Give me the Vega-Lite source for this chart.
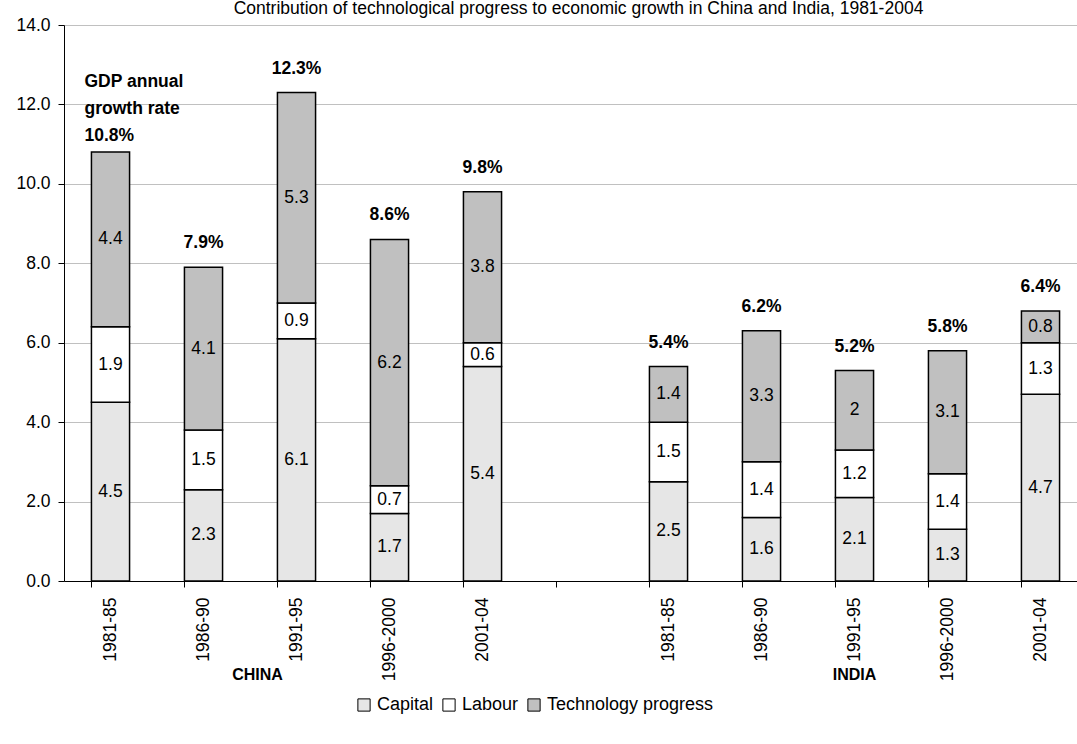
{
  "$schema": "https://vega.github.io/schema/vega-lite/v6.json",
  "autosize": {"type": "none"},
  "padding": {"left": 64, "top": 25, "right": 0, "bottom": 163},
  "width": 1013,
  "height": 556,
  "background": "white",
  "title": {
    "text": "Contribution of technological progress to economic growth in China and India, 1981-2004",
    "font": "Liberation Sans",
    "fontSize": 17.5,
    "fontWeight": "normal",
    "color": "black",
    "baseline": "bottom",
    "offset": 9,
    "dx": 8,
    "dy": 28
  },
  "config": {
    "view": {"stroke": null},
    "font": "Liberation Sans",
    "axisY": {
      "domainColor": "black",
      "domainWidth": 1,
      "tickColor": "black",
      "tickSize": 6,
      "labelFontSize": 17.5,
      "labelColor": "black",
      "labelPadding": 8,
      "gridColor": "#c0c0c0",
      "gridWidth": 1,
      "title": null
    }
  },
  "datasets": {
    "parts": [
      {"slot": "China 1981-85", "series": "Capital", "value": 4.5},
      {"slot": "China 1981-85", "series": "Labour", "value": 1.9},
      {"slot": "China 1981-85", "series": "Technology progress", "value": 4.4},
      {"slot": "China 1986-90", "series": "Capital", "value": 2.3},
      {"slot": "China 1986-90", "series": "Labour", "value": 1.5},
      {"slot": "China 1986-90", "series": "Technology progress", "value": 4.1},
      {"slot": "China 1991-95", "series": "Capital", "value": 6.1},
      {"slot": "China 1991-95", "series": "Labour", "value": 0.9},
      {"slot": "China 1991-95", "series": "Technology progress", "value": 5.3},
      {"slot": "China 1996-2000", "series": "Capital", "value": 1.7},
      {"slot": "China 1996-2000", "series": "Labour", "value": 0.7},
      {"slot": "China 1996-2000", "series": "Technology progress", "value": 6.2},
      {"slot": "China 2001-04", "series": "Capital", "value": 5.4},
      {"slot": "China 2001-04", "series": "Labour", "value": 0.6},
      {"slot": "China 2001-04", "series": "Technology progress", "value": 3.8},
      {"slot": "India 1981-85", "series": "Capital", "value": 2.5},
      {"slot": "India 1981-85", "series": "Labour", "value": 1.5},
      {"slot": "India 1981-85", "series": "Technology progress", "value": 1.4},
      {"slot": "India 1986-90", "series": "Capital", "value": 1.6},
      {"slot": "India 1986-90", "series": "Labour", "value": 1.4},
      {"slot": "India 1986-90", "series": "Technology progress", "value": 3.3},
      {"slot": "India 1991-95", "series": "Capital", "value": 2.1},
      {"slot": "India 1991-95", "series": "Labour", "value": 1.2},
      {"slot": "India 1991-95", "series": "Technology progress", "value": 2},
      {"slot": "India 1996-2000", "series": "Capital", "value": 1.3},
      {"slot": "India 1996-2000", "series": "Labour", "value": 1.4},
      {"slot": "India 1996-2000", "series": "Technology progress", "value": 3.1},
      {"slot": "India 2001-04", "series": "Capital", "value": 4.7},
      {"slot": "India 2001-04", "series": "Labour", "value": 1.3},
      {"slot": "India 2001-04", "series": "Technology progress", "value": 0.8}
    ],
    "totals": [
      {"slot": "China 1986-90", "top": 7.9, "label": "7.9%"},
      {"slot": "China 1991-95", "top": 12.3, "label": "12.3%"},
      {"slot": "China 1996-2000", "top": 8.6, "label": "8.6%"},
      {"slot": "China 2001-04", "top": 9.8, "label": "9.8%"},
      {"slot": "India 1981-85", "top": 5.4, "label": "5.4%"},
      {"slot": "India 1986-90", "top": 6.3, "label": "6.2%"},
      {"slot": "India 1991-95", "top": 5.3, "label": "5.2%"},
      {"slot": "India 1996-2000", "top": 5.8, "label": "5.8%"},
      {"slot": "India 2001-04", "top": 6.8, "label": "6.4%"}
    ],
    "first": [
      {"slot": "China 1981-85", "top": 10.8, "label": ["GDP annual", "growth rate", "10.8%"]}
    ]
  },
  "resolve": {"scale": {"x": "shared", "y": "shared"}, "axis": {"x": "independent"}},
  "layer": [
    {
      "data": {"name": "parts"},
      "mark": {"type": "bar", "stroke": "black", "strokeWidth": 1.5},
      "encoding": {
        "x": {
          "field": "slot",
          "type": "nominal",
          "sort": null,
          "scale": {
            "domain": ["China 1981-85", "China 1986-90", "China 1991-95", "China 1996-2000", "China 2001-04", "gap", "India 1981-85", "India 1986-90", "India 1991-95", "India 1996-2000", "India 2001-04"],
            "range": [0, 1023],
            "paddingInner": 0.59,
            "paddingOuter": 0.295
          },
          "axis": {
            "orient": "bottom",
            "title": null,
            "ticks": false,
            "domain": false,
            "labelAngle": -90,
            "labelAlign": "right",
            "labelBaseline": "middle",
            "labelFontSize": 17.5,
            "labelColor": "black",
            "labelPadding": 16,
            "labelExpr": "datum.value == 'gap' ? '' : split(datum.value, ' ')[1]"
          }
        },
        "y": {
          "field": "value",
          "type": "quantitative",
          "stack": "zero",
          "scale": {"domain": [0, 14], "nice": false},
          "axis": {"values": [0, 2, 4, 6, 8, 10, 12, 14], "format": ".1f", "title": null}
        },
        "color": {
          "field": "series",
          "type": "nominal",
          "scale": {
            "domain": ["Capital", "Labour", "Technology progress"],
            "range": ["#e6e6e6", "#ffffff", "#c0c0c0"]
          },
          "legend": {
            "orient": "none",
            "legendX": 291,
            "legendY": 671,
            "direction": "horizontal",
            "title": null,
            "symbolType": "square",
            "symbolSize": 150,
            "symbolStrokeColor": "black",
            "symbolStrokeWidth": 1,
            "symbolOpacity": 1,
            "labelFontSize": 18,
            "labelColor": "black",
            "labelOffset": 4,
            "columnPadding": 6,
            "labelLimit": 300
          }
        },
        "order": {"field": "series", "sort": "ascending"}
      }
    },
    {
      "data": {"name": "parts"},
      "mark": {"type": "text", "fontSize": 17.5, "color": "black", "baseline": "middle"},
      "encoding": {
        "x": {
          "field": "slot",
          "type": "nominal",
          "sort": null,
          "axis": {
            "orient": "bottom",
            "title": null,
            "labels": false,
            "ticks": true,
            "tickColor": "black",
            "tickSize": 6,
            "domain": true,
            "domainColor": "black",
            "bandPosition": 0,
            "grid": false
          }
        },
        "y": {"field": "value", "type": "quantitative", "stack": "zero", "bandPosition": 0.5},
        "detail": {"field": "series", "type": "nominal"},
        "order": {"field": "series", "sort": "ascending"},
        "text": {"field": "value", "type": "quantitative", "format": "~g"}
      }
    },
    {
      "data": {"name": "totals"},
      "mark": {"type": "text", "fontSize": 17.5, "fontWeight": "bold", "color": "black", "baseline": "alphabetic", "dy": -19},
      "encoding": {
        "x": {
          "field": "slot",
          "type": "nominal",
          "sort": null,
          "axis": {
            "orient": "bottom",
            "title": null,
            "ticks": false,
            "domain": false,
            "labelAngle": 0,
            "labelFontSize": 16,
            "labelFontWeight": "bold",
            "labelColor": "black",
            "labelPadding": 85,
            "labelBaseline": "top",
            "labelOffset": {"condition": {"test": "datum.value == 'China 1991-95'", "value": -39}, "value": 0},
            "labelExpr": "datum.value == 'China 1991-95' ? 'CHINA' : (datum.value == 'India 1991-95' ? 'INDIA' : '')"
          }
        },
        "y": {"field": "top", "type": "quantitative"},
        "text": {"field": "label", "type": "nominal"}
      }
    },
    {
      "data": {"name": "first"},
      "mark": {"type": "text", "fontSize": 17.5, "fontWeight": "bold", "color": "black", "align": "left", "baseline": "alphabetic", "dx": -26, "dy": -65, "lineHeight": 27},
      "encoding": {
        "x": {"field": "slot", "type": "nominal", "sort": null, "axis": null},
        "y": {"field": "top", "type": "quantitative"},
        "text": {"field": "label"}
      }
    }
  ]
}
